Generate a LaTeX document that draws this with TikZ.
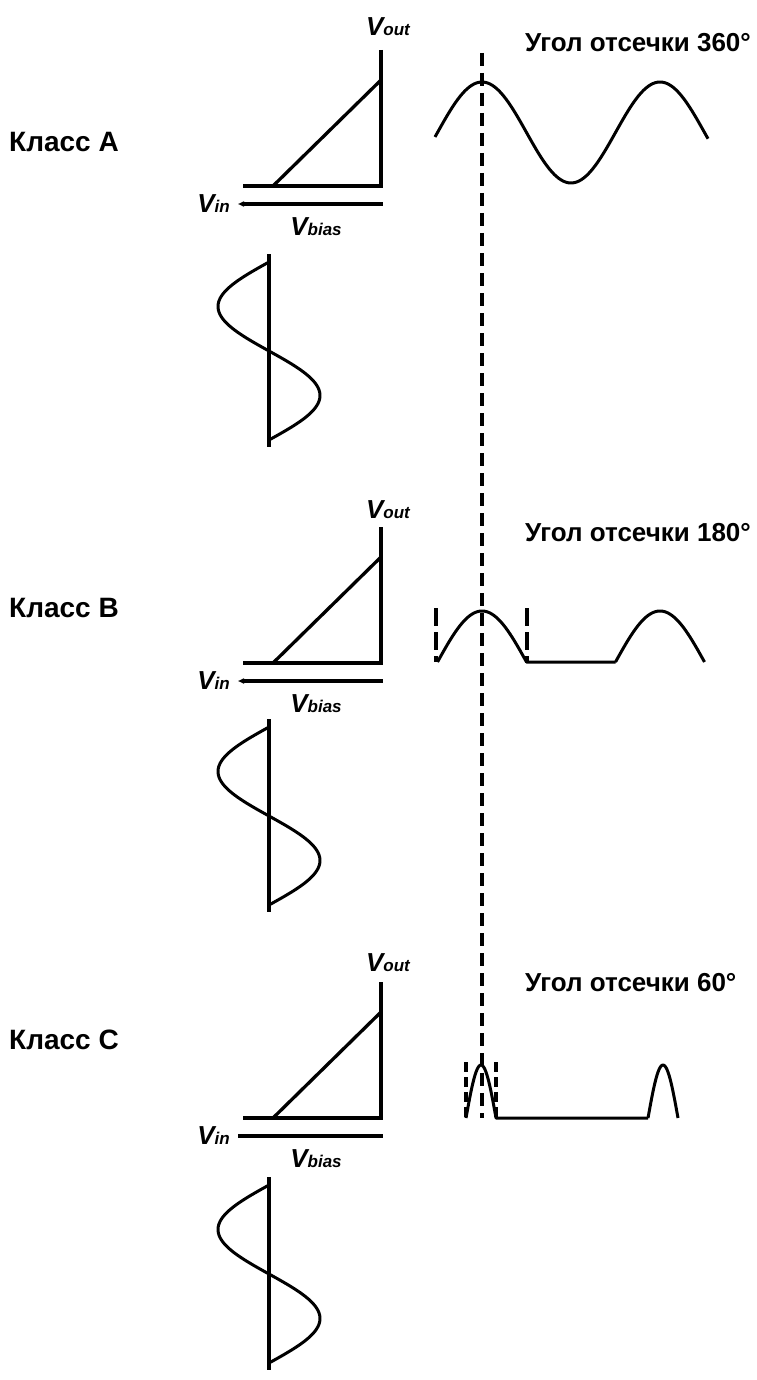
\documentclass[tikz,border=0pt]{standalone}
\usepackage{fontspec}
\setmainfont{Liberation Sans}
\usetikzlibrary{arrows.meta}
\begin{document}
\begin{tikzpicture}[x=1pt,y=-1pt,
  axis/.style={line width=3.3pt, line join=miter},
  wave/.style={line width=3pt, line join=round},
  dashv/.style={line width=3.4pt, dash pattern=on 13pt off 7pt},
  cls/.style={font=\fontsize{28}{32}\selectfont\bfseries, anchor=west, inner sep=0pt},
  ttl/.style={font=\fontsize{26}{30}\selectfont\bfseries, anchor=west, inner sep=0pt},
  vlab/.style={font=\bfseries\itshape, inner sep=0pt}]
\useasboundingbox (0,0) rectangle (756,1380);

\foreach \s/\o/\vo/\cl/\ti/\sn/\nm/\ang/\tip in {A/0/-23/-44/-143/76/A/360/{Triangle[length=6pt,width=5pt]}, B/477/-17/-55/-130/64/B/180/{Triangle[length=6pt,width=5pt]}, C/932/-19/-78/-135/67/C/60/{}}{
  \coordinate (\s-top) at (381,{\o+50});
  \coordinate (\s-o) at (381,{\o+186});
  \coordinate (\s-l) at (243,{\o+186});
  \coordinate (\s-d0) at (273,{\o+186});
  \coordinate (\s-d1) at (381,{\o+80});
  \coordinate (\s-b0) at (238,{\o+204});
  \coordinate (\s-b1) at (383,{\o+204});
  \draw[axis] (\s-top) -- (\s-o) -- (\s-l);
  \draw[axis] (\s-d0) -- (\s-d1);
  \draw[axis, arrows={\tip-}] (\s-b0) -- (\s-b1);
  \node[vlab] (\s-vout) at (388,{\o+50+\vo}) {\fontsize{26}{28}\selectfont V\fontsize{17}{19}\selectfont out};
  \node[vlab, anchor=east] (\s-vin) at (230,{\o+204}) {\fontsize{26}{28}\selectfont V\fontsize{17}{19}\selectfont in};
  \node[vlab] (\s-vbias) at (316,{\o+227}) {\fontsize{26}{28}\selectfont V\fontsize{17}{19}\selectfont bias};
  \node[cls] (\s-class) at (9,{\o+186+\cl}) {Класс \nm};
  \node[ttl] (\s-title) at (525,{\o+186+\ti}) {Угол отсечки \ang°};
  \coordinate (\s-st) at (269,{\o+186+\sn-8});
  \coordinate (\s-sb) at (269,{\o+186+\sn+185});
  \draw[axis] (\s-st) -- (\s-sb);
  \draw[wave] plot[variable=\t, domain=0:178, samples=90] ({269-51*sin(\t*2.02247)},{\o+186+\sn+\t});
}

% main dashed line
\coordinate (dtop) at (482,53);
\coordinate (dbot) at (482,1118);
\draw[dashv] (dtop) -- (dbot);

% Class A output
\draw[wave] plot[domain=435:708, samples=120] (\x,{132.5-50.5*cos((\x-482)*2.02247)});

% Class B output
\draw[wave] plot[domain=437.5:526.5, samples=60] (\x,{662-51*cos((\x-482)*2.02247)})
  -- (615.5,662)
  plot[domain=615.5:704.5, samples=60] (\x,{662-51*cos((\x-660)*2.02247)});
\coordinate (bl0) at (436,608);
\coordinate (bl1) at (436,662);
\coordinate (br0) at (527,608);
\coordinate (br1) at (527,662);
\draw[dashv, dash pattern=on 18pt off 6pt] (bl0) -- (bl1);
\draw[dashv, dash pattern=on 18pt off 6pt] (br0) -- (br1);

% Class C output
\draw[wave] plot[domain=466:496, samples=40] (\x,{1118-53*cos((\x-481)*6)})
  -- (648,1118)
  plot[domain=648:678, samples=40] (\x,{1118-53*cos((\x-663)*6)});
\coordinate (cl0) at (466,1062);
\coordinate (cl1) at (466,1118);
\coordinate (cr0) at (496,1062);
\coordinate (cr1) at (496,1118);
\draw[dashv, dash pattern=on 10pt off 5pt] (cl0) -- (cl1);
\draw[dashv, dash pattern=on 10pt off 5pt] (cr0) -- (cr1);
\end{tikzpicture}
\end{document}
